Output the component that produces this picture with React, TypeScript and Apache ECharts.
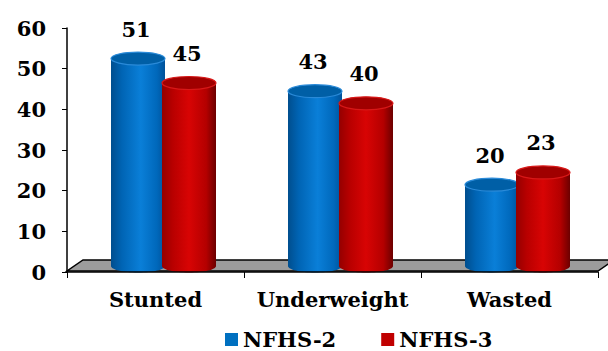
import React, { useEffect, useRef } from "react";
import * as echarts from "echarts";

const categories = ["Stunted", "Underweight", "Wasted"];
const nfhs2 = [51, 43, 20];
const nfhs3 = [45, 40, 23];
const seriesNames = ["NFHS-2", "NFHS-3"];

const FONT = "'DejaVu Serif', Georgia, serif";

type Palette = { base: string; body: [number, string][]; top: string; rim: string };

const bluePalette: Palette = {
  base: "#0070C0",
  body: [
    [0, "#004e8e"],
    [0.2, "#0064b4"],
    [0.55, "#0a7fd8"],
    [0.85, "#0068bb"],
    [1, "#00529a"],
  ],
  top: "#005fa6",
  rim: "#2a8ad8",
};

const redPalette: Palette = {
  base: "#C00000",
  body: [
    [0, "#940000"],
    [0.2, "#b80000"],
    [0.5, "#d80404"],
    [0.82, "#b40000"],
    [1, "#6c0000"],
  ],
  top: "#a00000",
  rim: "#d81818",
};

function gradient(stops: [number, string][]) {
  return new echarts.graphic.LinearGradient(
    0,
    0,
    1,
    0,
    stops.map(([offset, color]) => ({ offset, color }))
  );
}

// Floor plane of the 3-D plot area
function renderFloor(params: any) {
  const cs = params.coordSys;
  const x0 = cs.x;
  const x1 = cs.x + cs.width;
  const yF = cs.y + cs.height - 1;
  const dx = 16;
  const dy = 11;
  return {
    type: "polygon",
    shape: {
      points: [
        [x0, yF],
        [x1, yF],
        [x1 + dx, yF - dy],
        [x0 + dx, yF - dy],
      ],
    },
    style: { fill: "#9c9c9c", stroke: "#000", lineWidth: 1.5 },
  };
}

// Cylinder bar with its value label
function cylinder(shift: number, palette: Palette) {
  return (params: any, api: any) => {
    const idx = api.value(0);
    const v = api.value(1);
    const top = api.coord([idx, v]);
    const base = api.coord([idx, 0]);
    const cx = top[0] + shift;
    const rx = 27;
    const ry = 6.5;
    const lift = 6;
    const yTop = top[1] - lift;
    const yBase = base[1] - lift;
    return {
      type: "group",
      children: [
        {
          type: "ellipse",
          shape: { cx, cy: yBase, rx, ry },
          style: { fill: gradient(palette.body) },
        },
        {
          type: "rect",
          shape: { x: cx - rx, y: yTop, width: rx * 2, height: yBase - yTop },
          style: { fill: gradient(palette.body) },
        },
        {
          type: "ellipse",
          shape: { cx, cy: yTop, rx, ry },
          style: { fill: palette.top, stroke: palette.rim, lineWidth: 1.2 },
        },
        {
          type: "text",
          style: {
            text: String(v),
            x: cx - 2,
            y: yTop - ry - 23,
            align: "center",
            verticalAlign: "middle",
            fill: "#000",
            font: `bold 21px ${FONT}`,
          },
        },
      ],
    };
  };
}

export default function App() {
  const ref = useRef<HTMLDivElement>(null);

  useEffect(() => {
    if (!ref.current) return;
    const chart = echarts.init(ref.current, undefined, { renderer: "svg" });
    chart.setOption({
      animation: false,
      backgroundColor: "#fff",
      grid: { left: 67, right: 10, top: 28, bottom: 79 },
      legend: {
        data: seriesNames,
        left: 225,
        top: 329,
        padding: 0,
        icon: "rect",
        itemWidth: 13,
        itemHeight: 13,
        itemGap: 45,
        textStyle: {
          fontFamily: FONT,
          fontWeight: "bold",
          fontSize: 21,
          lineHeight: 21,
          color: "#000",
        },
      },
      xAxis: {
        type: "category",
        data: categories,
        axisLine: { show: true, lineStyle: { color: "#000", width: 1.5 } },
        axisTick: { show: true, length: 6, lineStyle: { color: "#000" } },
        axisLabel: {
          interval: 0,
          hideOverlap: false,
          margin: 17,
          fontFamily: FONT,
          fontWeight: "bold",
          fontSize: 21,
          color: "#000",
        },
        z: 5,
      },
      yAxis: {
        type: "value",
        min: 0,
        max: 60,
        interval: 10,
        splitLine: { show: false },
        axisLine: { show: true, lineStyle: { color: "#000", width: 1.5 } },
        axisTick: { show: true, length: 5, lineStyle: { color: "#000" } },
        axisLabel: {
          margin: 21,
          fontFamily: FONT,
          fontWeight: "bold",
          fontSize: 21,
          color: "#000",
        },
        z: 5,
      },
      series: [
        {
          type: "custom",
          name: "floor",
          renderItem: renderFloor,
          data: [[0, 0]],
          silent: true,
          z: 1,
        },
        {
          type: "custom",
          name: seriesNames[0],
          itemStyle: { color: bluePalette.base },
          renderItem: cylinder(-17.5, bluePalette),
          encode: { x: 0, y: 1 },
          data: nfhs2.map((v, i) => [i, v]),
          z: 2,
        },
        {
          type: "custom",
          name: seriesNames[1],
          itemStyle: { color: redPalette.base },
          renderItem: cylinder(33.5, redPalette),
          encode: { x: 0, y: 1 },
          data: nfhs3.map((v, i) => [i, v]),
          z: 3,
        },
      ],
    });
    return () => chart.dispose();
  }, []);

  return (
    <div
      ref={ref}
      style={{ position: "fixed", left: 0, top: 0, width: 608, height: 351 }}
    />
  );
}
